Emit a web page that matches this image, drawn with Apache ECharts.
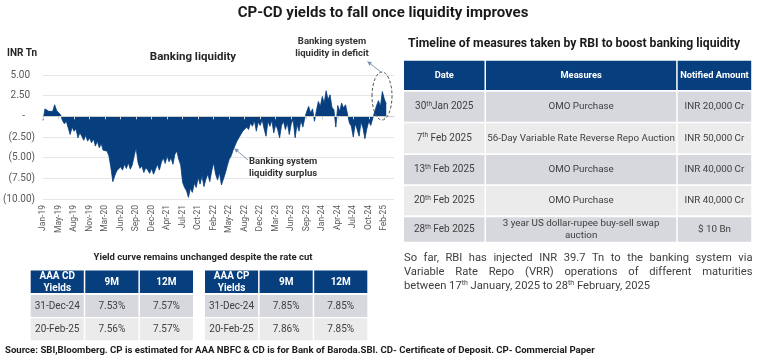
<!DOCTYPE html>
<html><head><meta charset="utf-8">
<script src="https://cdn.jsdelivr.net/npm/echarts@6/dist/echarts.min.js"></script>
<style>html,body{margin:0;padding:0;background:#fff}#c{width:768px;height:361px}</style>
</head><body><div id="c"></div>
<script>
// ---------- DATA ----------
const tickLabels = ['Jan-19','May-19','Aug-19','Nov-19','Mar-20','Jun-20','Sep-20','Dec-20','Apr-21','Jul-21','Oct-21','Feb-22','May-22','Aug-22','Dec-22','Mar-23','Jun-23','Sep-23','Jan-24','Apr-24','Jul-24','Oct-24','Feb-25'];
const pointsPerLabel = 8;
const trailingPoints = 5;
const liquidity = [
 -0.5,0.9,1.1,0.6,0.8,0.6,1.4,0.7,0.6,0.2,
 -0.5,-0.9,-0.6,-1.4,-2.2,-1.3,-1.8,-1.5,-2.6,-2.0,
 -2.4,-2.9,-2.3,-3.0,-2.6,-3.2,-2.7,-3.6,-3.0,-3.8,
 -3.3,-4.1,-3.9,-4.2,-4.8,-6.2,-7.9,-7.2,-6.6,-6.8,
 -6.1,-6.5,-5.8,-6.3,-5.6,-6.4,-5.9,-4.8,-3.8,-5.6,
 -6.3,-6.0,-6.8,-6.2,-6.5,-6.9,-6.3,-7.0,-6.4,-5.8,
 -6.5,-5.6,-5.0,-5.7,-4.8,-5.5,-5.0,-5.8,-4.6,-4.2,
 -5.2,-5.9,-8.0,-8.6,-9.0,-9.8,-8.7,-9.2,-8.1,-8.6,
 -7.4,-8.2,-7.2,-8.5,-7.6,-7.0,-7.9,-6.6,-5.6,-7.0,
 -7.7,-6.8,-8.3,-8.5,-6.9,-6.0,-5.2,-4.8,-4.1,-3.9,
 -3.0,-2.6,-2.2,-1.8,-2.0,-1.3,-1.6,-0.8,-1.2,-0.5,
 -1.8,-0.7,-1.1,-0.4,-1.5,-2.4,-0.6,-1.2,-0.5,-2.0,
 -1.0,-1.6,-2.6,-1.1,-0.6,-1.6,-0.8,-2.2,-0.9,-0.4,
 -2.6,-1.0,-1.8,-0.5,-1.3,-0.2,0.6,1.2,0.4,0.9,
 -0.6,0.7,1.8,1.2,2.4,1.6,3.1,2.0,2.6,1.1,
 0.8,-1.3,1.3,0.6,1.6,1.0,1.4,0.3,-0.8,-1.2,
 -2.5,-0.9,-1.6,-2.4,-0.7,-1.4,-2.7,-1.5,-0.6,-1.1,
 -0.3,-0.5,1.3,1.9,1.2,3.0,2.1,1.5
];
const yTicks = [-10,-7.5,-5,-2.5,0,2.5,5];
const yTickLabels = ['(10.00)','(7.50)','(5.00)','(2.50)','-    ','2.50  ','5.00  '];

const cdHeader = ['AAA CD\nYields','9M','12M'];
const cdRows = [['31-Dec-24','7.53%','7.57%'],['20-Feb-25','7.56%','7.57%']];
const cpHeader = ['AAA CP\nYields','9M','12M'];
const cpRows = [['31-Dec-24','7.85%','7.85%'],['20-Feb-25','7.86%','7.85%']];

const measureHeader = ['Date','Measures','Notified Amount'];
const measureDates = [['30','th','Jan 2025'],['7','th',' Feb 2025'],['13','th',' Feb 2025'],['20','th',' Feb 2025'],['28','th',' Feb 2025']];
const measureNames = ['OMO Purchase','56-Day Variable Rate Reverse Repo Auction','OMO Purchase','OMO Purchase','3 year US dollar-rupee buy-sell swap\nauction'];
const measureAmounts = ['INR 20,000 Cr','INR 50,000 Cr','INR 40,000 Cr','INR 40,000 Cr','$ 10 Bn'];

const paraLines = ['So far, RBI has injected INR 39.7 Tn to the banking system via','Variable Rate Repo (VRR) operations of different maturities'];
const paraLast = ['between 17','th',' January, 2025 to 28','th',' February, 2025'];

// ---------- BUILD ----------
const categories = [];
tickLabels.forEach((l,i)=>{
  categories.push(l);
  if (i < tickLabels.length-1) for (let j=1;j<pointsPerLabel;j++) categories.push(l+' #'+j);
});
for (let j=1;j<=trailingPoints;j++) categories.push('end #'+j);

const NAVY = '#063e7e', DARKROW = '#d7d8dd', LIGHTROW = '#ebebeb', TXT = '#404040';
const FF = 'Roboto';
const G = [];
function txt(x,y,text,o){ o=o||{}; G.push({type:'text', x, y, z:10, style:Object.assign({text, fontFamily:FF, fontSize:10, fill:TXT, align:'center', verticalAlign:'middle'}, o)}); }
function rect(x,y,w,h,fill){ G.push({type:'rect', z:5, shape:{x,y,width:w,height:h}, style:{fill}}); }

// titles
txt(383,13,'CP-CD yields to fall once liquidity improves',{fontSize:15,fontWeight:'bold',fill:'#1a1a1a'});
txt(7,53,'INR Tn',{fontSize:10,fontWeight:'bold',fill:'#262626',align:'left'});
txt(193,57,'Banking liquidity',{fontSize:11.5,fontWeight:'bold',fill:'#262626'});
txt(332,42,'Banking system',{fontSize:9.5,fontWeight:'bold',fill:'#333'});
txt(332,54,'liquidity in deficit',{fontSize:9.5,fontWeight:'bold',fill:'#333'});
txt(249,162,'Banking system',{fontSize:9.5,fontWeight:'bold',fill:'#333',align:'left'});
txt(249,174,'liquidity surplus',{fontSize:9.5,fontWeight:'bold',fill:'#333',align:'left'});
// annotations
G.push({type:'ellipse', z:10, shape:{cx:382,cy:96,rx:10,ry:24}, style:{fill:'none',stroke:'#555',lineWidth:1,lineDash:[3,2]}});
function arrow(x1,y1,x2,y2){
  G.push({type:'line', z:10, shape:{x1,y1,x2,y2}, style:{stroke:'#7c8ea8',lineWidth:0.9}});
  const a=Math.atan2(y2-y1,x2-x1), L=4, W=2.2;
  const bx=x2-L*Math.cos(a), by=y2-L*Math.sin(a);
  G.push({type:'polygon', z:10, shape:{points:[[x2,y2],[bx+W*Math.sin(a),by-W*Math.cos(a)],[bx-W*Math.sin(a),by+W*Math.cos(a)]]}, style:{fill:'#7c8ea8'}});
}
arrow(381.5,72.5,367.5,61.5);
arrow(248,160,234.5,148.5);

// yield tables
txt(203,258,'Yield curve remains unchanged despite the rate cut',{fontSize:9.5,fontWeight:'bold',fill:'#262626'});
function yieldTable(x0, header, rows){
  const cw=54.6, hy=270.5, hh=22.5, ry=[295,318.2], rh=22;
  header.forEach((h,c)=>{ rect(x0+c*cw, hy, cw-1.5, hh, NAVY); txt(x0+c*cw+cw/2-0.75, hy+hh/2+0.5, h, {fill:'#fff',fontWeight:'bold',fontSize:10,lineHeight:12}); });
  rows.forEach((r,ri)=>{ r.forEach((v,c)=>{ rect(x0+c*cw, ry[ri], cw-1.5, rh, ri===0?DARKROW:LIGHTROW); txt(x0+c*cw+cw/2-0.75, ry[ri]+rh/2, v, {fontSize:10}); }); });
}
yieldTable(30.7, cdHeader, cdRows);
yieldTable(205, cpHeader, cpRows);

// measures table
txt(408,44,'Timeline of measures taken by RBI to boost banking liquidity',{fontSize:12.2,fontWeight:'bold',fill:'#1a1a1a',align:'left'});
const mcx=[404,486,677.7,752.7];
const mTop=[91.7,123.3,155,186,217.3], mH=[30,30,29.2,29.2,24.4];
measureHeader.forEach((h,c)=>{ rect(mcx[c],60.7,mcx[c+1]-mcx[c]-1.5,29.3,NAVY); txt((mcx[c]+mcx[c+1]-1.5)/2,75.5,h,{fill:'#fff',fontWeight:'bold',fontSize:9.3}); });
for (let r=0;r<measureNames.length;r++){
  const fill = r%2===0?DARKROW:LIGHTROW, cy=mTop[r]+mH[r]/2;
  for (let c=0;c<3;c++) rect(mcx[c],mTop[r],mcx[c+1]-mcx[c]-1.5,mH[r],fill);
  const d=measureDates[r];
  G.push({type:'text', z:10, x:(mcx[0]+mcx[1]-1.5)/2, y:cy, style:{text:'{a|'+d[0]+'}{s|'+d[1]+'}{a|'+d[2]+'}', align:'center', verticalAlign:'middle', rich:{a:{fontFamily:FF,fontSize:10,fill:TXT,lineHeight:12}, s:{fontFamily:FF,fontSize:6.5,fill:TXT,lineHeight:12,verticalAlign:'top'}}}});
  txt((mcx[1]+mcx[2]-1.5)/2, cy, measureNames[r], {fontSize:9.8,lineHeight:12});
  txt((mcx[2]+mcx[3]-1.5)/2, cy, measureAmounts[r], {fontSize:9.8});
}
// paragraph (justified)
const ctx=document.createElement('canvas').getContext('2d');
const pf='11.2px Roboto';
paraLines.forEach((line,li)=>{
  ctx.font=pf; const words=line.split(' '); const ws=words.map(w=>ctx.measureText(w).width);
  const gap=(752.5-404-ws.reduce((a,b)=>a+b,0))/(words.length-1);
  let x=404; words.forEach((w,i)=>{ txt(x,258.5+li*13.7,w,{fontSize:11.2,align:'left'}); x+=ws[i]+gap; });
});
G.push({type:'text', z:10, x:404, y:258.5+2*13.7, style:{text:'{a|'+paraLast[0]+'}{s|'+paraLast[1]+'}{a|'+paraLast[2]+'}{s|'+paraLast[3]+'}{a|'+paraLast[4]+'}', align:'left', verticalAlign:'middle', rich:{a:{fontFamily:FF,fontSize:11.2,fill:TXT,lineHeight:13}, s:{fontFamily:FF,fontSize:7,fill:TXT,lineHeight:13,verticalAlign:'top'}}}});

// source
txt(5,351,'Source: SBI,Bloomberg. CP is estimated for AAA NBFC & CD is for Bank of Baroda.SBI. CD- Certificate of Deposit. CP- Commercial Paper',{fontSize:9.6,fontWeight:'bold',fill:'#1a1a1a',align:'left'});

const chart = echarts.init(document.getElementById('c'));
chart.setOption({
  animation:false,
  backgroundColor:'#fff',
  grid:{left:41, right:374, top:75, bottom:162, containLabel:false},
  xAxis:[
    {type:'category', data:categories, boundaryGap:false, z:5,
     axisLine:{show:true,onZero:true,lineStyle:{color:'#d0d0d0',width:1}},
     axisTick:{show:true,interval:pointsPerLabel-1,length:3,lineStyle:{color:'#d0d0d0'}},
     axisLabel:{show:false}, splitLine:{show:false}},
    {type:'category', data:categories, boundaryGap:false, position:'bottom',
     axisLine:{show:false,onZero:false}, axisTick:{show:false},
     axisLabel:{show:true,interval:pointsPerLabel-1,rotate:90,margin:6,fontSize:8.5,fontFamily:FF,color:'#595959'},
     splitLine:{show:false}}
  ],
  yAxis:{type:'value', min:-10, max:5, interval:2.5,
    axisLine:{show:false}, axisTick:{show:false},
    splitLine:{show:true,lineStyle:{color:'#e6e6e6',width:1}},
    axisLabel:{margin:8,fontSize:10,fontFamily:FF,color:'#595959',formatter:v=>{const i=yTicks.indexOf(v);return i>=0?yTickLabels[i]:'';}}},
  series:[{type:'line', xAxisIndex:0, data:liquidity, symbol:'none', smooth:false,
    lineStyle:{color:NAVY,width:0.8}, areaStyle:{color:NAVY,opacity:1}}],
  graphic:G
});
</script></body></html>
